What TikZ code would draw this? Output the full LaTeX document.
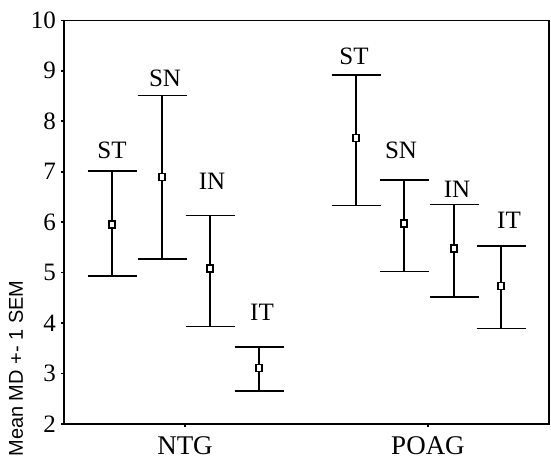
\documentclass[tikz,border=0pt]{standalone}
\usepackage{fontspec}
\setmainfont{Liberation Serif}
\newfontfamily\titlefont{Liberation Sans}
\usetikzlibrary{positioning}

\begin{document}
\begin{tikzpicture}[x=1pt, y=50.45pt,
    barline/.style={line width=1.5pt},
    meanbox/.style={draw, line width=1.5pt, fill=white, inner sep=0pt, minimum width=6pt, minimum height=7pt},
    barlabel/.style={font=\fontsize{25}{25}\selectfont, inner sep=0pt},
    ticklabel/.style={font=\fontsize{25}{25}\selectfont, inner sep=0pt, anchor=east},
    grouplabel/.style={font=\fontsize{27}{27}\selectfont, inner sep=0pt},
  ]
\useasboundingbox (0,1.3062) rectangle (551,10.4042);

% frame and ticks
\draw[line width=1.6pt] (64,2) rectangle (549,10);
\foreach \v in {2,...,10}{
  \coordinate (y\v) at (64,\v);
  \draw[line width=1.6pt] (y\v) -- ++(-3.5pt,0pt);
  \node[ticklabel] (t\v) at (56,\v) {\v};
}
\coordinate (xntg) at (185,2);
\coordinate (xpoag) at (428,2);
\draw[line width=1.6pt] (xntg) -- ++(0pt,-3.5pt);
\draw[line width=1.6pt] (xpoag) -- ++(0pt,-3.5pt);
\node[grouplabel] (ntg) at (185,1.57) {NTG};
\node[grouplabel] (poag) at (428,1.57) {POAG};
\node[rotate=90, inner sep=0pt, font=\titlefont\fontsize{20}{20}\selectfont] (ytitle) at (16,3.1) {Mean MD +- 1 SEM};

% error bars: name/x/low/mean/high/label/label x/label y
\foreach \name/\x/\lo/\m/\hi/\txt/\tx/\ty in {
    nst/112/4.93/5.95/7.01/ST/112/7.42,
    nsn/162/5.27/6.90/8.51/SN/165/8.85,
    nin/210/3.93/5.08/6.13/IN/212/6.82,
    nit/259/2.65/3.11/3.53/IT/262/4.21,
    pst/356/6.33/7.67/8.92/ST/354/9.28,
    psn/404/5.02/5.97/6.84/SN/401/7.42,
    pin/454/4.52/5.48/6.35/IN/457/6.65,
    pit/501/3.89/4.74/5.53/IT/509/6.03}{
  \coordinate (\name lo) at (\x,\lo);
  \coordinate (\name hi) at (\x,\hi);
  \draw[barline] (\name lo) -- (\name hi);
  \draw[barline] ([xshift=-24.5pt]\name lo) -- ([xshift=24.5pt]\name lo);
  \draw[barline] ([xshift=-24.5pt]\name hi) -- ([xshift=24.5pt]\name hi);
  \node[meanbox] (\name m) at (\x,\m) {};
  \node[barlabel] (\name t) at (\tx,\ty) {\txt};
}
\end{tikzpicture}
\end{document}
